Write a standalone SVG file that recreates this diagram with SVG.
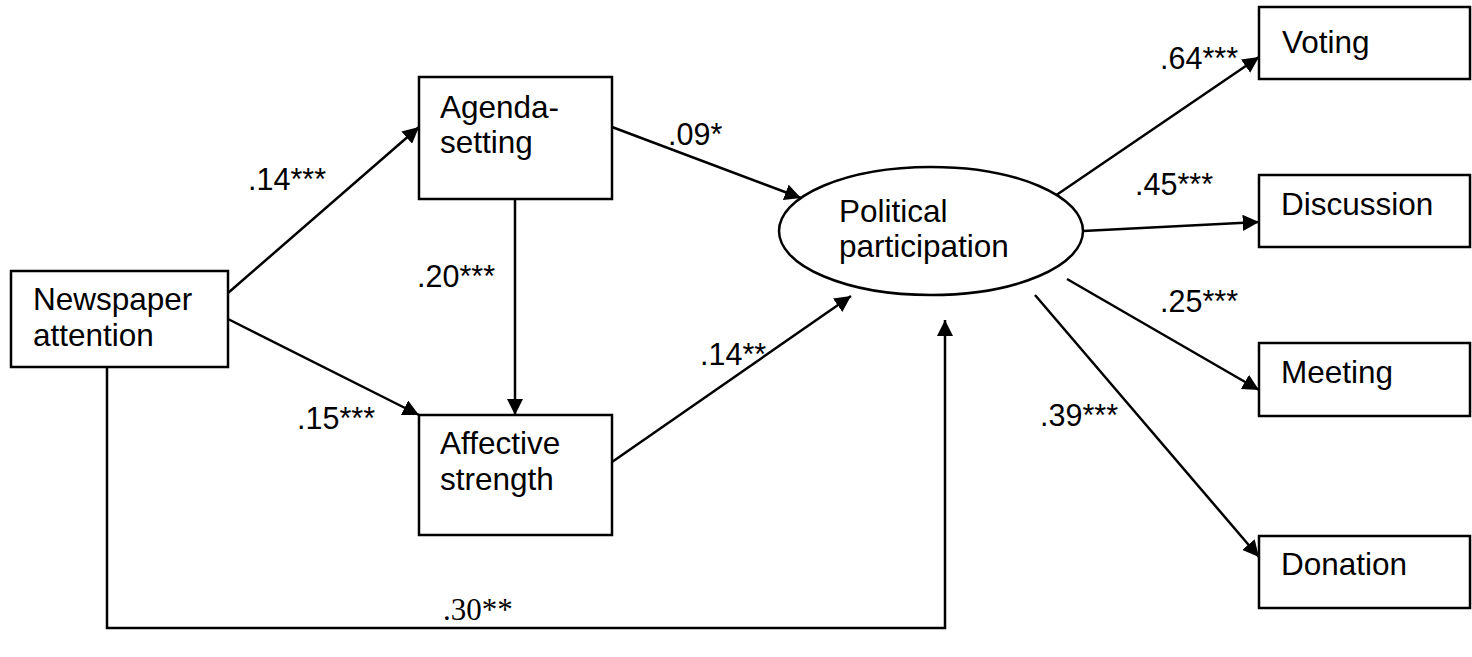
<svg xmlns="http://www.w3.org/2000/svg" width="1472" height="657" viewBox="0 0 1472 657">
  <style>
    .box { fill: #fff; stroke: #000; stroke-width: 2.5; }
    .lbl { font-family: "Liberation Sans", Arial, sans-serif; font-size: 31.5px; fill: #000; }
    .coef { font-family: "Liberation Sans", Arial, sans-serif; font-size: 30.5px; fill: #000; }
    .coef-serif { font-family: "Liberation Serif", "Times New Roman", serif; font-size: 31px; fill: #000; }
    .edge { fill: none; stroke: #000; stroke-width: 2.5; }
  </style>
  <defs>
    <marker id="arrow" viewBox="0 0 10 10" refX="10" refY="5" markerWidth="6.5" markerHeight="6.5" markerUnits="strokeWidth" orient="auto">
      <path d="M0,0 L10,5 L0,10 Z" fill="#000"/>
    </marker>
  </defs>

  <rect width="1472" height="657" fill="#fff"/>

  <!-- connectors -->
  <g id="connectors">
    <line class="edge" x1="228" y1="293" x2="419" y2="127" marker-end="url(#arrow)"/>
    <line class="edge" x1="228" y1="319" x2="419" y2="415" marker-end="url(#arrow)"/>
    <line class="edge" x1="515" y1="199" x2="515" y2="415" marker-end="url(#arrow)"/>
    <line class="edge" x1="612" y1="127" x2="801" y2="198" marker-end="url(#arrow)"/>
    <line class="edge" x1="612" y1="462" x2="851" y2="296" marker-end="url(#arrow)"/>
    <polyline class="edge" points="107,367 107,628 945,628 945,320" marker-end="url(#arrow)"/>
    <line class="edge" x1="1052" y1="198" x2="1259" y2="57" marker-end="url(#arrow)"/>
    <line class="edge" x1="1083" y1="231" x2="1259" y2="222" marker-end="url(#arrow)"/>
    <line class="edge" x1="1067" y1="279" x2="1259" y2="390" marker-end="url(#arrow)"/>
    <line class="edge" x1="1035" y1="295" x2="1259" y2="557" marker-end="url(#arrow)"/>

    <text class="coef" x="248" y="190">.14***</text>
    <text class="coef" x="417" y="287">.20***</text>
    <text class="coef" x="297" y="429">.15***</text>
    <text class="coef" x="668" y="145">.09*</text>
    <text class="coef" x="700" y="365">.14**</text>
    <text class="coef" x="1160" y="69">.64***</text>
    <text class="coef" x="1135" y="195">.45***</text>
    <text class="coef" x="1160" y="312">.25***</text>
    <text class="coef" x="1040" y="426">.39***</text>
    <text class="coef-serif" x="443" y="620">.30**</text>
  </g>

  <!-- nodes -->
  <g id="newspaper">
    <rect class="box" x="11" y="271" width="217" height="96"/>
    <text class="lbl" x="33" y="310">Newspaper</text>
    <text class="lbl" x="33" y="346">attention</text>
  </g>
  <g id="agenda">
    <rect class="box" x="419" y="77" width="193" height="122"/>
    <text class="lbl" x="440" y="118">Agenda-</text>
    <text class="lbl" x="440" y="153">setting</text>
  </g>
  <g id="affective">
    <rect class="box" x="419" y="415" width="193" height="120"/>
    <text class="lbl" x="440" y="454">Affective</text>
    <text class="lbl" x="440" y="490">strength</text>
  </g>
  <g id="participation">
    <ellipse class="box" cx="931" cy="231" rx="152" ry="64"/>
    <text class="lbl" x="839" y="222">Political</text>
    <text class="lbl" x="839" y="257">participation</text>
  </g>
  <g id="voting">
    <rect class="box" x="1259" y="7" width="211" height="72"/>
    <text class="lbl" x="1282" y="53">Voting</text>
  </g>
  <g id="discussion">
    <rect class="box" x="1259" y="175" width="211" height="72"/>
    <text class="lbl" x="1281" y="215">Discussion</text>
  </g>
  <g id="meeting">
    <rect class="box" x="1259" y="343" width="211" height="73"/>
    <text class="lbl" x="1281" y="383">Meeting</text>
  </g>
  <g id="donation">
    <rect class="box" x="1259" y="536" width="211" height="72"/>
    <text class="lbl" x="1281" y="575">Donation</text>
  </g>
</svg>
